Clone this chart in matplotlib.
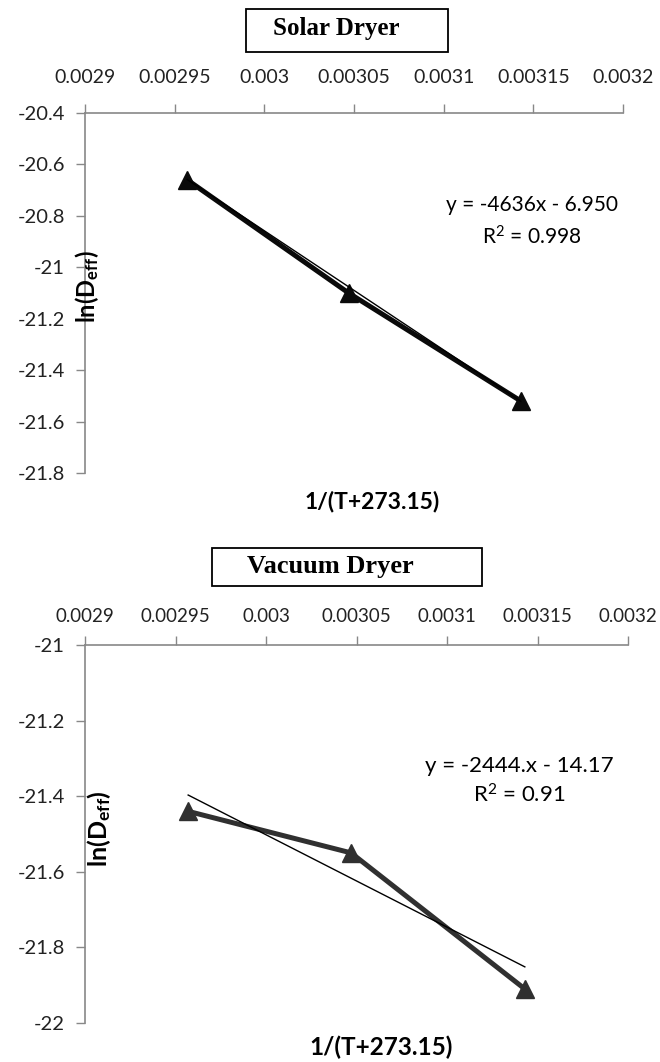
"""
Arrhenius-type plots of ln(Deff) against 1/(T+273.15) for a solar dryer
and a vacuum dryer, each with its linear trend line.
"""

import matplotlib
matplotlib.use("Agg")
import matplotlib.pyplot as plt
from matplotlib.patches import Rectangle
import numpy as np

plt.rcParams["font.family"] = ["Lato", "DejaVu Sans"]
plt.rcParams["mathtext.fontset"] = "custom"
plt.rcParams["mathtext.rm"] = "Lato"
plt.rcParams["mathtext.bf"] = "Lato:bold"

# drying temperatures 65, 55, 45 C -> 1/(T+273.15)
inv_temp = [0.002957, 0.003047, 0.003143]

solar_ln_deff = [-20.66, -21.10, -21.52]
solar_fit = (-4636, -6.950)
solar_eq = "y = -4636x - 6.950"
solar_r2 = "R$\\mathregular{^2}$ = 0.998"

vacuum_ln_deff = [-21.44, -21.55, -21.91]
vacuum_fit = (-2444, -14.17)
vacuum_eq = "y = -2444.x - 14.17"
vacuum_r2 = "R$\\mathregular{^2}$ = 0.91"

x_ticks = [0.0029, 0.00295, 0.003, 0.00305, 0.0031, 0.00315, 0.0032]
x_tick_labels = ["0.0029", "0.00295", "0.003", "0.00305", "0.0031", "0.00315", "0.0032"]
solar_y_ticks = [-20.4, -20.6, -20.8, -21, -21.2, -21.4, -21.6, -21.8]
vacuum_y_ticks = [-21, -21.2, -21.4, -21.6, -21.8, -22]

W, H = 660, 1062
fig = plt.figure(figsize=(W / 100, H / 100), dpi=100)


def fax(x0, y0, x1, y1):
    # pixel box (top-left origin) -> figure fraction
    return [x0 / W, 1 - y1 / H, (x1 - x0) / W, (y1 - y0) / H]


def draw_panel(ax, y, fit, yticks, ylim, line_color, tick_fs, xpad):
    ax.plot(inv_temp, y, color=line_color, lw=3.6, marker="^", ms=13,
            zorder=3, solid_capstyle="butt")
    xs = np.array([inv_temp[0], inv_temp[-1]])
    ax.plot(xs, fit[0] * xs + fit[1], color="black", lw=1.0, zorder=4)

    ax.set_xlim(0.0029, 0.0032)
    ax.set_ylim(*ylim)
    ax.xaxis.tick_top()
    ax.set_xticks(x_ticks)
    ax.set_xticklabels(x_tick_labels, fontsize=tick_fs, color="#222222")
    ax.set_yticks(yticks)
    ax.set_yticklabels([f"{v:g}" for v in yticks], fontsize=14.5,
                       color="#222222")
    ax.tick_params(axis="both", direction="out", length=6.5, width=1,
                   color="#888888")
    ax.tick_params(axis="x", pad=xpad)
    ax.tick_params(axis="y", pad=8)
    for s in ["right", "bottom"]:
        ax.spines[s].set_visible(False)
    for s in ["top", "left"]:
        ax.spines[s].set_color("#888888")
        ax.spines[s].set_linewidth(1.2)
    ax.patch.set_alpha(0)


# Solar dryer
ax1 = fig.add_axes(fax(85, 113, 623, 473))
draw_panel(ax1, solar_ln_deff, solar_fit, solar_y_ticks, (-21.8, -20.4),
           "#0a0a0a", 14, 13)
ax1.text(0.003149, -20.758, solar_eq, ha="center", va="center", fontsize=15)
ax1.text(0.003149, -20.883, solar_r2, ha="center", va="center", fontsize=15)
fig.text(87 / W, 1 - 287 / H, "$\\mathbf{ln(D_{eff})}$", rotation=90,
         ha="center", va="center", fontsize=17)
fig.text(372 / W, 1 - 502 / H, "1/(T+273.15)", ha="center", va="center",
         fontsize=16.5, weight="bold")
fig.add_artist(Rectangle((246 / W, 1 - 52 / H), 202 / W, 43 / H,
                         transform=fig.transFigure, fill=False,
                         ec="black", lw=1.3))
fig.text(336 / W, 1 - 29 / H, "Solar Dryer", ha="center", va="center",
         fontsize=18, weight="bold", family="Liberation Serif")

# Vacuum dryer
ax2 = fig.add_axes(fax(85, 645, 628, 1023))
draw_panel(ax2, vacuum_ln_deff, vacuum_fit, vacuum_y_ticks, (-22, -21),
           "#303030", 13.5, 8)
ax2.text(0.00314, -21.32, vacuum_eq, ha="center", va="center", fontsize=16)
ax2.text(0.00314, -21.397, vacuum_r2, ha="center", va="center", fontsize=16)
fig.text(99 / W, 1 - 829 / H, "$\\mathbf{ln(D_{eff})}$", rotation=90,
         ha="center", va="center", fontsize=18)
fig.text(381 / W, 1 - 1047 / H, "1/(T+273.15)", ha="center", va="center",
         fontsize=17.5, weight="bold")
fig.add_artist(Rectangle((212 / W, 1 - 586 / H), 270 / W, 38 / H,
                         transform=fig.transFigure, fill=False,
                         ec="black", lw=1.3))
fig.text(330 / W, 1 - 566 / H, "Vacuum Dryer", ha="center", va="center",
         fontsize=19, weight="bold", family="Liberation Serif")

plt.savefig("out.png", dpi=100)
